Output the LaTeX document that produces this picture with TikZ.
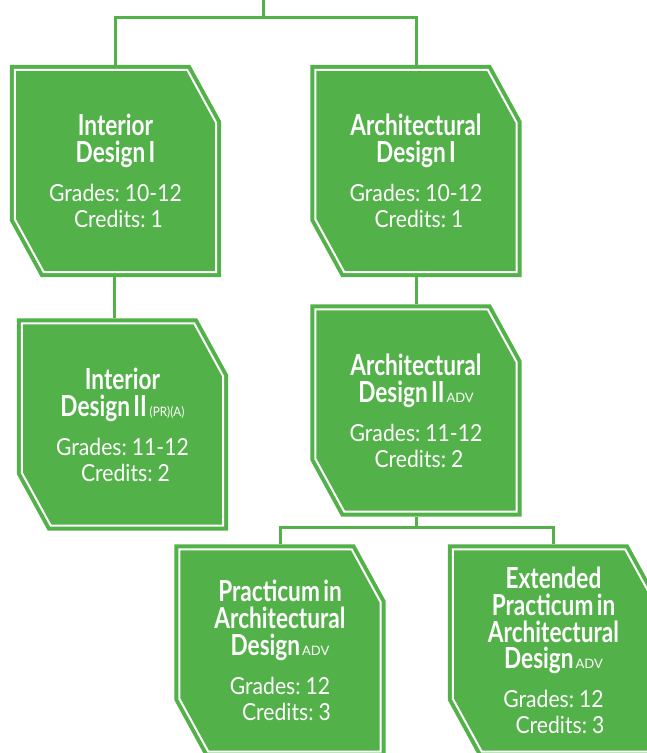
\documentclass[tikz,border=0pt]{standalone}
\usepackage{fontspec}
\setmainfont{Lato}
\newfontfamily\titlefont[FakeStretch=0.78]{Lato}
\newfontfamily\bodyfont[FakeStretch=0.9]{Lato}
\newfontfamily\tagfont{Lato}
\usetikzlibrary{calc,backgrounds}
\definecolor{boxgreen}{RGB}{83,177,73}
\newcommand\ttl[1]{{\titlefont\bfseries\fontsize{29}{26.7}\selectfont #1\par}\vspace{13pt}}
\newcommand\bdy[1]{{\bodyfont\fontsize{23.5}{26}\selectfont #1\par}}
\newcommand\advtag{\hspace{2pt}{\tagfont\mdseries\fontsize{13}{13}\selectfont ADV}}
\newcommand\prtag{\hspace{3pt}{\bodyfont\mdseries\fontsize{13}{13}\selectfont (PR)(A)}}
\newcommand\cutpoly[1]{($(#1.north west)+(5,5)$) -- ($(#1.north east)+(-34,5)$) -- ($(#1.north east)+(-5,58)$) -- ($(#1.south east)+(-5,-5)$) -- ($(#1.south west)+(34,-5)$) -- ($(#1.south west)+(5,-58)$) -- cycle}
\newcommand\cutshape[1]{%
  \path[fill=boxgreen, draw=boxgreen, line width=10pt, line join=miter] \cutpoly{#1};
  \path[draw=white, line width=2pt, line join=miter] \cutpoly{#1};}
\tikzset{
  box/.style={minimum width=211pt, minimum height=212pt, inner sep=0pt, text width=205pt, align=center, text=white},
  conn/.style={draw=boxgreen, line width=3pt}
}
\begin{document}
\begin{tikzpicture}[x=1pt,y=-1pt]
\useasboundingbox (0,0) rectangle (647,753);
\clip (0,0) rectangle (647,753);
\node[box] (b1) at (115.5,171) {\ttl{Interior\\Design I}\bdy{Grades: 10-12\\\hspace*{6pt}Credits: 1}};
\node[box] (b2) at (416,171) {\ttl{Architectural\\Design I}\bdy{Grades: 10-12\\\hspace*{6pt}Credits: 1}};
\node[box] (b3) at (122.5,424.5) {\ttl{Interior\\Design II\prtag}\bdy{Grades: 11-12\\\hspace*{6pt}Credits: 2}};
\node[box] (b4) at (416,410.5) {\ttl{Architectural\\Design II\advtag}\bdy{Grades: 11-12\\\hspace*{6pt}Credits: 2}};
\node[box] (b5) at (280,650.5) {\ttl{Practicum in\\Architectural\\Design\advtag}\bdy{Grades: 12\\\hspace*{13pt}Credits: 3}};
\node[box] (b6) at (553.5,650.5) {\ttl{Extended\\Practicum in\\Architectural\\Design\advtag}\bdy{Grades: 12\\\hspace*{13pt}Credits: 3}};
\coordinate (top) at (263,0);
\coordinate (j1) at (263,17);
\coordinate (j2) at (416,527);
\begin{scope}[on background layer]
  \cutshape{b1}\cutshape{b2}\cutshape{b3}\cutshape{b4}\cutshape{b5}\cutshape{b6}
  \draw[conn] (top) -- (j1);
  \draw[conn] (b1.north) |- (j1) -| (b2.north);
  \draw[conn] ($(b1.south)+(-1.5,0)$) -- ($(b1.south |- b3.north)+(-1.5,0)$);
  \draw[conn] (b2.south) -- (b4.north);
  \draw[conn] (b4.south) -- (j2);
  \draw[conn] (b5.north) |- (j2) -| (b6.north);
\end{scope}
\end{tikzpicture}
\end{document}
